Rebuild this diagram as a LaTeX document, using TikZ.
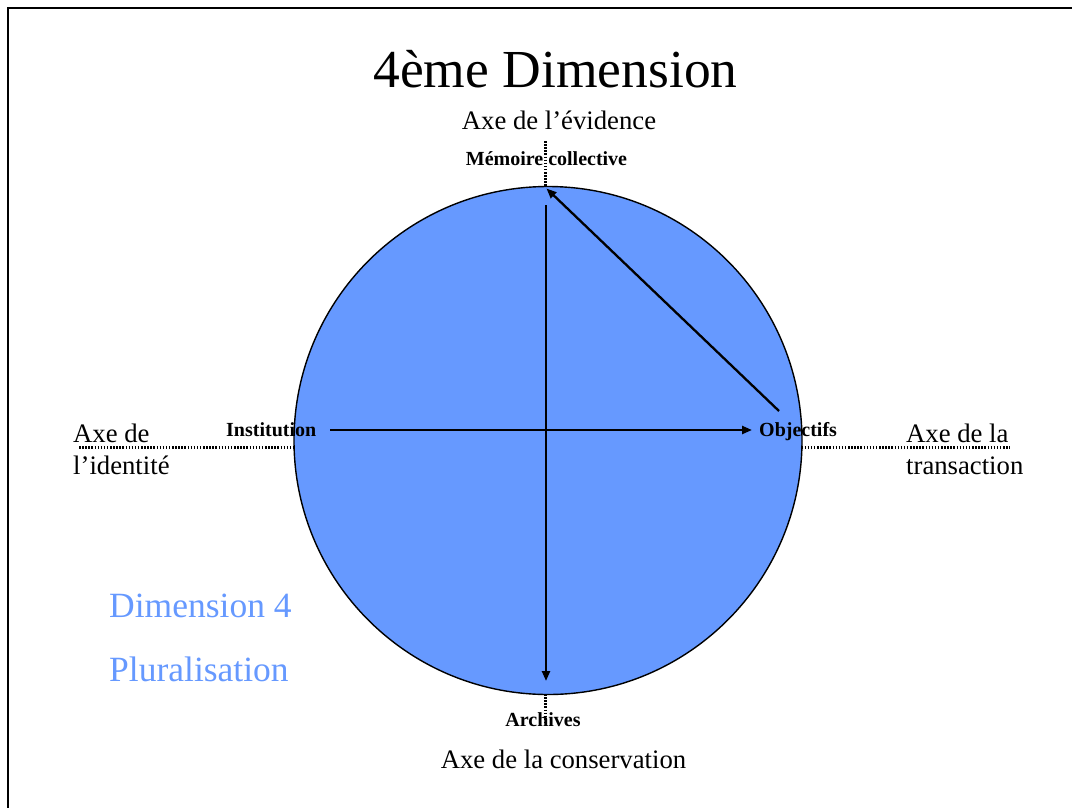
\documentclass[tikz,border=0pt]{standalone}
\usepackage{fontspec}
\setmainfont{Liberation Serif}
\usetikzlibrary{arrows.meta}
\definecolor{discblue}{HTML}{6699FF}
\tikzset{
  lbl/.style={anchor=base, inner sep=0pt, font=\fontsize{20}{24}\selectfont\bfseries},
  axis/.style={anchor=base west, inner sep=0pt, align=left, font=\fontsize{26.7}{31.6}\selectfont},
  axisc/.style={anchor=base, inner sep=0pt, font=\fontsize{26.7}{31.6}\selectfont},
  bluetxt/.style={anchor=base west, inner sep=0pt, text=discblue, font=\fontsize{35.5}{40}\selectfont},
  dotline/.style={line width=2.4pt, dash pattern=on 1.5pt off 1.6pt},
  arr/.style={line width=2.3pt, -{Triangle[length=10pt,width=8pt]}},
}
\begin{document}
\begin{tikzpicture}[x=1pt,y=-1pt]
\useasboundingbox (0,0) rectangle (1072,807);
% frame
\draw[line width=1.8pt] (8,812) -- (8,8) -- (1076,8);
% title
\node[anchor=base, inner sep=0pt, font=\fontsize{53.5}{60}\selectfont] (title) at (555.5,87.3) {4ème Dimension};
% disc
\node[circle, draw=black, line width=1.4pt, fill=discblue, minimum size=508pt, inner sep=0pt] (disc) at (548,440.5) {};
% dotted axes
\coordinate (ctop) at (545.5,187);
\coordinate (cbot) at (545.5,694);
\coordinate (cleft) at (294.5,447.5);
\coordinate (cright) at (801.5,447.5);
\coordinate (dtop) at (545.5,141);
\coordinate (dbot) at (545.5,723);
\coordinate (dleft) at (79,447.5);
\coordinate (dright) at (1010,447.5);
\draw[dotline] (dtop) -- (ctop);
\draw[dotline] (cbot) -- (dbot);
\draw[dotline] (dleft) -- (cleft);
\draw[dotline] (cright) -- (dright);
% axis texts
\node[axisc] (evid) at (559,129.3) {Axe de l’évidence};
\node[axisc] (cons) at (563.5,768) {Axe de la conservation};
\node[axis] (ident) at (73,474.3) {Axe de\\l’identité};
\node[axis] (trans) at (906,474.3) {Axe de la\\transaction};
% pole labels
\node[lbl] (memo) at (546.5,165.7) {Mémoire collective};
\node[lbl, anchor=base west] (inst) at (226,436.7) {Institution};
\node[lbl, anchor=base west] (obj) at (759,436.7) {Objectifs};
\node[lbl] (arch) at (543,726) {Archives};
% blue texts
\node[bluetxt] (dim4) at (109,617.3) {Dimension 4};
\node[bluetxt] (plur) at (109,681.7) {Pluralisation};
% arrows
\coordinate (vstart) at (546,205);
\coordinate (vend) at (546,681);
\coordinate (hstart) at (330,430);
\coordinate (hend) at (752,430);
\coordinate (dstart) at (779,411);
\coordinate (dend) at (546.5,188.5);
\draw[arr] (vstart) -- (vend);
\draw[arr] (hstart) -- (hend);
\draw[arr] (dstart) -- (dend);
\end{tikzpicture}
\end{document}
